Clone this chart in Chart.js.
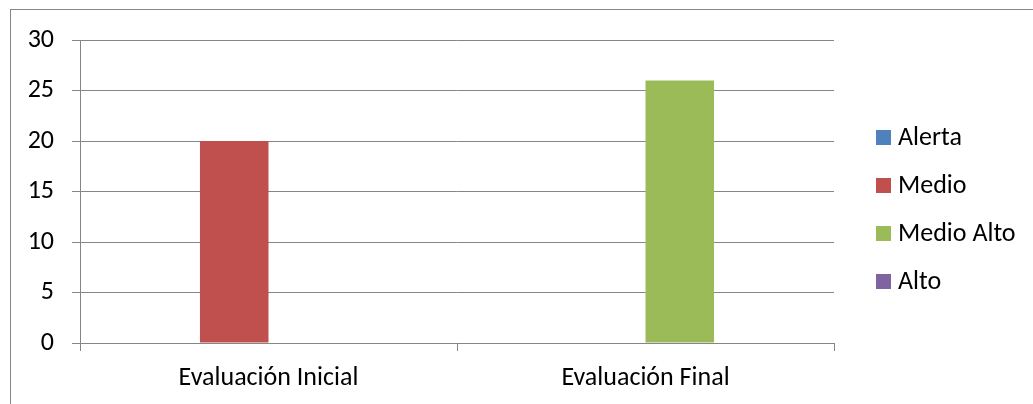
<!DOCTYPE html>
<html><head><meta charset="utf-8">
<script src="https://cdn.jsdelivr.net/npm/chart.js@4/dist/chart.umd.min.js"></script>
<style>html,body{margin:0;padding:0;background:#fff;overflow:hidden}</style>
</head><body>
<canvas id="c" width="1033" height="404"></canvas>
<script>
const categories = ['Evaluación Inicial', 'Evaluación Final'];
const seriesNames = ['Alerta', 'Medio', 'Medio Alto', 'Alto'];
const alerta = [0, 0];
const medio = [20, 0];
const medioAlto = [0, 26];
const alto = [0, 0];
const seriesColors = ['#4F81BD', '#C0504D', '#9BBB59', '#8064A2'];
const yMin = 0, yMax = 30, yStep = 5;

const FAMILY = 'Carlito, Calibri, Lato, sans-serif';
const FSIZE = 26;
const GRID = '#868686';

const frame = {
  id: 'frame',
  beforeDraw(chart) {
    const ctx = chart.ctx;
    ctx.save();
    ctx.fillStyle = '#fff';
    ctx.fillRect(0, 0, chart.width, chart.height);
    ctx.strokeStyle = GRID;
    ctx.lineWidth = 1;
    ctx.strokeRect(10.5, 9.5, 1200, 600);
    ctx.restore();
  }
};

const sideLegend = {
  id: 'sideLegend',
  afterDraw(chart) {
    const ctx = chart.ctx;
    ctx.save();
    ctx.font = FSIZE + 'px ' + FAMILY;
    ctx.textBaseline = 'middle';
    ctx.textAlign = 'left';
    chart.data.datasets.forEach((ds, i) => {
      const y = 137 + i * 48.3;
      ctx.fillStyle = ds.backgroundColor;
      ctx.fillRect(876, Math.round(y - 7.5), 15, 15);
      ctx.fillStyle = '#000';
      ctx.fillText(ds.label, 898, y + 1);
    });
    ctx.restore();
  }
};

const datasets = [alerta, medio, medioAlto, alto].map((vals, i) => ({
  label: seriesNames[i],
  data: vals,
  backgroundColor: seriesColors[i],
  borderWidth: 0,
  categoryPercentage: 4 / 5.5,
  barPercentage: 1.0
}));

new Chart(document.getElementById('c'), {
  type: 'bar',
  data: { labels: categories, datasets },
  plugins: [frame, sideLegend],
  options: {
    responsive: false,
    animation: false,
    devicePixelRatio: 1,
    layout: { padding: { left: 0, top: 40, right: 1033 - 834, bottom: 0 } },
    plugins: { legend: { display: false }, tooltip: { enabled: false } },
    scales: {
      x: {
        grid: { display: true, drawOnChartArea: false, drawTicks: true, tickLength: 8, color: GRID, tickColor: GRID, offset: true },
        border: { display: true, color: GRID, width: 1 },
        ticks: { color: '#000', font: { family: FAMILY, size: FSIZE }, padding: 12, maxRotation: 0 },
        afterFit(s) { s.height = 404 - 343; }
      },
      y: {
        min: yMin, max: yMax,
        grid: { color: GRID, tickColor: GRID, tickLength: 8, drawTicks: true },
        border: { display: true, color: GRID, width: 1 },
        ticks: { stepSize: yStep, color: '#000', font: { family: FAMILY, size: FSIZE }, padding: 18 },
        afterFit(s) { s.width = 80; }
      }
    }
  }
});
</script>
</body></html>
